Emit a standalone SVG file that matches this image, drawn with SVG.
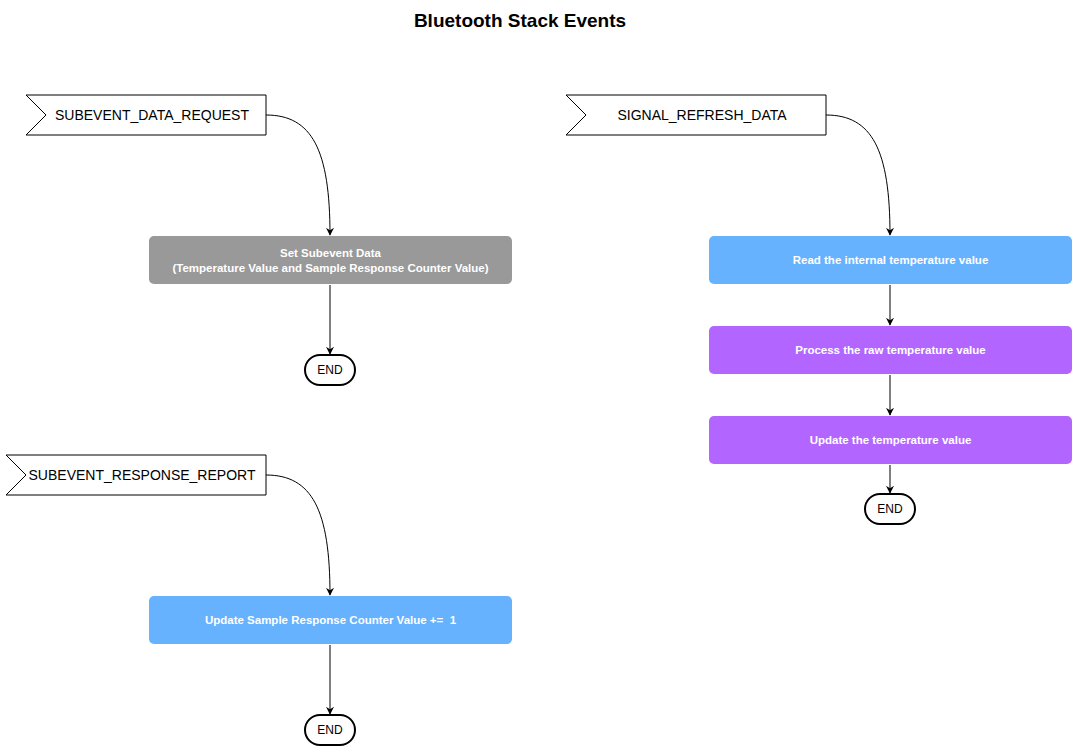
<svg xmlns="http://www.w3.org/2000/svg" width="1079" height="752" viewBox="0 0 1079 752">
<defs>
<marker id="arr" viewBox="0 0 10 10" refX="9" refY="5" markerWidth="8" markerHeight="8" markerUnits="userSpaceOnUse" orient="auto">
<path d="M0,0 L10,5 L0,10 L3,5 Z" fill="#000"/>
</marker>
<style>
.flag{fill:#fff;stroke:#000;stroke-width:1}
.flagt{font-family:"Liberation Sans",Arial,sans-serif;font-size:14px;fill:#000;text-anchor:middle;dominant-baseline:central}
.box{stroke:none}
.boxt{font-family:"Liberation Sans",Arial,sans-serif;font-size:11.5px;font-weight:bold;fill:#fff;text-anchor:middle;dominant-baseline:central}
.end{fill:#fff;stroke:#000;stroke-width:2}
.endt{font-family:"Liberation Sans",Arial,sans-serif;font-size:12px;fill:#000;text-anchor:middle;dominant-baseline:central}
.conn{fill:none;stroke:#000;stroke-width:1;marker-end:url(#arr)}
</style>
</defs>
<rect width="1079" height="752" fill="#fff"/>
<text x="520" y="20" font-family="Liberation Sans,Arial,sans-serif" font-size="19" font-weight="bold" text-anchor="middle" dominant-baseline="central">Bluetooth Stack Events</text>

<g id="flag-data-request">
<polygon class="flag" points="26,95 266,95 266,135 26,135 46,115"/>
<text class="flagt" x="152" y="115">SUBEVENT_DATA_REQUEST</text>
</g>
<g id="set-subevent-data">
<rect class="box" x="149" y="236" width="363" height="48" rx="5" fill="#999999"/>
<text class="boxt" x="330.5" y="253">Set Subevent Data</text>
<text class="boxt" x="330.5" y="268">(Temperature Value and Sample Response Counter Value)</text>
</g>
<g id="end-1">
<rect class="end" x="305" y="355" width="50" height="30" rx="15"/>
<text class="endt" x="330" y="370">END</text>
</g>

<g id="flag-refresh">
<polygon class="flag" points="566,95 826,95 826,135 566,135 586,115"/>
<text class="flagt" x="702" y="115">SIGNAL_REFRESH_DATA</text>
</g>
<g id="read-temp">
<rect class="box" x="709" y="236" width="363" height="48" rx="5" fill="#66B2FF"/>
<text class="boxt" x="890.5" y="260">Read the internal temperature value</text>
</g>
<g id="process-temp">
<rect class="box" x="709" y="326" width="363" height="48" rx="5" fill="#B266FF"/>
<text class="boxt" x="890.5" y="350">Process the raw temperature value</text>
</g>
<g id="update-temp">
<rect class="box" x="709" y="416" width="363" height="48" rx="5" fill="#B266FF"/>
<text class="boxt" x="890.5" y="440">Update the temperature value</text>
</g>
<g id="end-2">
<rect class="end" x="865" y="494" width="50" height="30" rx="15"/>
<text class="endt" x="890" y="509">END</text>
</g>

<g id="flag-response-report">
<polygon class="flag" points="6,455 266,455 266,495 6,495 26,475"/>
<text class="flagt" x="142" y="475">SUBEVENT_RESPONSE_REPORT</text>
</g>
<g id="update-counter">
<rect class="box" x="149" y="596" width="363" height="48" rx="5" fill="#66B2FF"/>
<text class="boxt" x="330.5" y="620" xml:space="preserve">Update Sample Response Counter Value +=  1</text>
</g>
<g id="end-3">
<rect class="end" x="305" y="715" width="50" height="30" rx="15"/>
<text class="endt" x="330" y="730">END</text>
</g>

<g id="connectors">
<path class="conn" d="M266,115 C312,115 330,150 330,235"/>
<path class="conn" d="M330,285 L330,354"/>
<path class="conn" d="M826,115 C872,115 890,150 890,235"/>
<path class="conn" d="M890,285 L890,325"/>
<path class="conn" d="M890,375 L890,415"/>
<path class="conn" d="M890,465 L890,493"/>
<path class="conn" d="M266,475 C312,475 330,510 330,595"/>
<path class="conn" d="M330,645 L330,714"/>
</g>
</svg>
